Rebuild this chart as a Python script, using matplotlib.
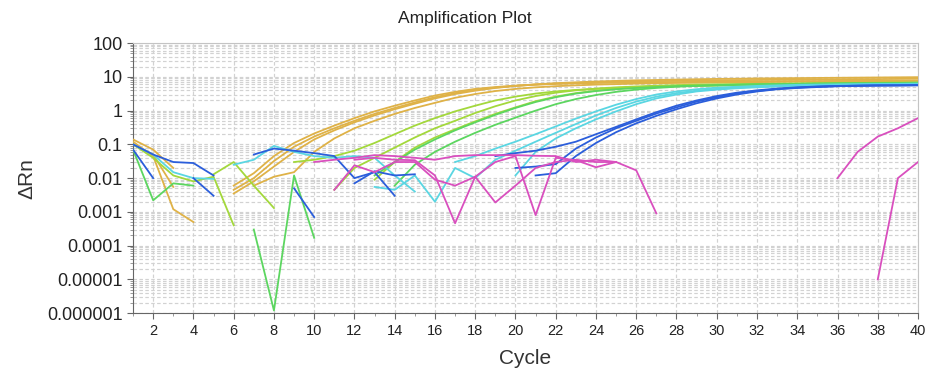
import numpy as np
import matplotlib
matplotlib.use("Agg")
import matplotlib.pyplot as plt
from matplotlib.ticker import FixedLocator, FuncFormatter, MultipleLocator, LogLocator, NullFormatter

plt.rcParams['font.family'] = ['Liberation Sans', 'DejaVu Sans']

# each trace: (first cycle, values per cycle)
gold_traces = [
    (6, [0.006, 0.014, 0.045, 0.11, 0.21, 0.36, 0.6, 0.95, 1.4, 2.0, 2.8, 3.6, 4.4, 5.0, 5.5, 5.9, 6.2, 6.4,
         6.6, 6.7, 6.8, 6.9, 7.0, 7.1, 7.2, 7.3, 7.3, 7.4, 7.5, 7.5, 7.6, 7.6, 7.7, 7.7, 7.8]),
    (6, [0.0045, 0.01, 0.032, 0.085, 0.17, 0.3, 0.5, 0.8, 1.2, 1.75, 2.5, 3.3, 4.1, 4.8, 5.4, 5.9, 6.3, 6.6,
         6.9, 7.1, 7.3, 7.5, 7.6, 7.8, 7.9, 8.0, 8.1, 8.2, 8.3, 8.4, 8.5, 8.6, 8.6, 8.7, 8.8]),
    (6, [0.0035, 0.008, 0.022, 0.06, 0.14, 0.26, 0.45, 0.72, 1.1, 1.6, 2.3, 3.1, 3.9, 4.7, 5.4, 6.0, 6.5, 6.9,
         7.3, 7.6, 7.9, 8.1, 8.3, 8.5, 8.7, 8.8, 9.0, 9.1, 9.2, 9.3, 9.4, 9.5, 9.6, 9.7, 9.8]),
    (7, [0.006, 0.011, 0.015, 0.06, 0.15, 0.3, 0.5, 0.8, 1.2, 1.7, 2.4, 3.1, 3.8, 4.4, 4.9, 5.3, 5.6, 5.9,
         6.1, 6.3, 6.5, 6.6, 6.7, 6.8, 6.9, 7.0, 7.1, 7.2, 7.2, 7.3, 7.4, 7.5, 7.5, 7.6]),
    (1, [0.12, 0.045, 0.0012, 0.0005]),
    (1, [0.1, 0.05, 0.0055]),
    (1, [0.14, 0.07, 0.02]),
]

yellowgreen_traces = [
    (9, [0.03, 0.035, 0.045, 0.065, 0.11, 0.2, 0.36, 0.6, 0.95, 1.4, 2.0, 2.6, 3.2, 3.7, 4.1, 4.4, 4.7, 4.9,
         5.1, 5.3, 5.4, 5.5, 5.6, 5.7, 5.8, 5.9, 6.0, 6.0, 6.1, 6.2, 6.2, 6.3]),
    (11, [0.0045, 0.02, 0.04, 0.08, 0.16, 0.3, 0.5, 0.85, 1.35, 2.0, 2.7, 3.4, 4.0, 4.5, 4.9, 5.2, 5.5, 5.7,
          5.9, 6.0, 6.1, 6.2, 6.3, 6.4, 6.5, 6.6, 6.6, 6.7, 6.8, 6.8]),
    (13, [0.009, 0.03, 0.08, 0.16, 0.28, 0.48, 0.8, 1.25, 1.9, 2.6, 3.3, 3.9, 4.4, 4.8, 5.1, 5.4, 5.6, 5.8,
          5.9, 6.0, 6.1, 6.2, 6.3, 6.4, 6.4, 6.5, 6.5, 6.6]),
    (5, [0.013, 0.03, 0.006, 0.0013]),
    (1, [0.1, 0.04, 0.012, 0.008, 0.011, 0.0004]),
]

green_traces = [
    (13, [0.012, 0.03, 0.07, 0.14, 0.26, 0.45, 0.75, 1.2, 1.8, 2.5, 3.2, 3.8, 4.3, 4.7, 5.0, 5.3, 5.5, 5.7,
          5.9, 6.0, 6.1, 6.2, 6.3, 6.4, 6.5, 6.5, 6.6, 6.7]),
    (14, [0.006, 0.025, 0.06, 0.12, 0.22, 0.38, 0.62, 1.0, 1.55, 2.2, 2.9, 3.6, 4.2, 4.7, 5.1, 5.4, 5.6, 5.8,
          6.0, 6.1, 6.2, 6.3, 6.4, 6.5, 6.5, 6.6, 6.7]),
    (1, [0.07, 0.0022, 0.007, 0.006]),
    (7, [0.0003, 0.0000012, 0.012, 0.00017]),
]

cyan_traces = [
    (17, [0.03, 0.045, 0.075, 0.12, 0.2, 0.34, 0.58, 0.95, 1.5, 2.2, 3.0, 3.7, 4.3, 4.8, 5.1, 5.4, 5.6, 5.8,
          5.9, 6.0, 6.1, 6.2, 6.2, 6.3]),
    (13, [0.0055, 0.0045, 0.012, 0.002, 0.02, 0.01, 0.035, 0.065, 0.12, 0.22, 0.4, 0.72, 1.2, 1.85, 2.6, 3.3,
          3.9, 4.4, 4.8, 5.1, 5.3, 5.5, 5.7, 5.8, 5.9, 6.0, 6.0, 6.1]),
    (20, [0.012, 0.06, 0.15, 0.3, 0.55, 0.95, 1.55, 2.3, 3.0, 3.7, 4.2, 4.6, 4.9, 5.2, 5.4, 5.5, 5.6, 5.7,
          5.8, 5.9, 5.9]),
    (1, [0.1, 0.05, 0.015, 0.01, 0.0095]),
    (6, [0.025, 0.035, 0.09, 0.06, 0.045, 0.04, 0.045, 0.04, 0.012, 0.004]),
]

blue_traces = [
    (19, [0.045, 0.055, 0.065, 0.085, 0.12, 0.2, 0.33, 0.55, 0.9, 1.4, 2.0, 2.7, 3.4, 4.0, 4.5, 4.9, 5.2,
          5.4, 5.5, 5.6, 5.6, 5.7]),
    (20, [0.02, 0.022, 0.026, 0.075, 0.16, 0.3, 0.5, 0.82, 1.25, 1.85, 2.5, 3.2, 3.8, 4.4, 4.8, 5.1, 5.3,
          5.5, 5.6, 5.6, 5.7]),
    (21, [0.012, 0.014, 0.045, 0.11, 0.23, 0.42, 0.7, 1.1, 1.65, 2.3, 3.0, 3.7, 4.3, 4.7, 5.0, 5.3, 5.4,
          5.5, 5.6, 5.6]),
    (1, [0.07, 0.01]),
    (1, [0.1, 0.05, 0.03, 0.028, 0.012]),
    (4, [0.01, 0.003]),
    (9, [0.005, 0.0007]),
    (7, [0.05, 0.075, 0.065, 0.055, 0.045, 0.01, 0.015, 0.003]),
    (12, [0.007, 0.016, 0.012, 0.013]),
]

magenta_traces = [
    (10, [0.03, 0.035, 0.04, 0.048, 0.045, 0.04, 0.035, 0.045, 0.048, 0.048, 0.048, 0.046, 0.045, 0.03,
          0.035, 0.03, 0.017, 0.0009]),
    (11, [0.0045, 0.024, 0.015, 0.03, 0.03, 0.009, 0.006, 0.011, 0.0019, 0.006, 0.02, 0.03, 0.035, 0.03, 0.03]),
    (12, [0.035, 0.04, 0.035, 0.034, 0.012, 0.00046, 0.011, 0.03, 0.045, 0.0008, 0.04, 0.034, 0.021, 0.03]),
    (36, [0.01, 0.06, 0.17, 0.3, 0.6]),
    (38, [0.00001, 0.01, 0.03]),
]

groups = [
    (gold_traces, '#DFB247'),
    (yellowgreen_traces, '#A3D83C'),
    (green_traces, '#5CD660'),
    (cyan_traces, '#5AD6E2'),
    (blue_traces, '#2B5EDB'),
    (magenta_traces, '#D94FBE'),
]

y_ticks = [1e-6, 1e-5, 1e-4, 1e-3, 1e-2, 1e-1, 1, 10, 100]
x_ticks = list(range(2, 41, 2))

fig = plt.figure(figsize=(9.29, 3.75), dpi=100)
ax = fig.add_axes([0.1432, 0.165, 0.845, 0.72])

for traces, color in groups:
    for start, vals in traces:
        cyc = np.arange(start, start + len(vals))
        ax.plot(cyc, vals, color=color, lw=1.3, solid_joinstyle='round', zorder=3)

ax.set_yscale('log')
ax.set_ylim(1e-6, 100)
ax.set_xlim(1, 40)
ax.yaxis.set_major_locator(FixedLocator(y_ticks))
ax.yaxis.set_minor_locator(LogLocator(base=10, subs=np.arange(2, 10), numticks=100))
ax.yaxis.set_minor_formatter(NullFormatter())
ax.yaxis.set_major_formatter(FuncFormatter(lambda v, p: np.format_float_positional(v, trim='-')))
ax.xaxis.set_major_locator(FixedLocator(x_ticks))
ax.xaxis.set_minor_locator(MultipleLocator(1))

ax.grid(True, which='both', axis='y', color='#d2d2d2', lw=0.85, ls=(0, (3, 2)), zorder=0)
ax.grid(True, which='major', axis='x', color='#d2d2d2', lw=0.85, ls=(0, (3, 2)), zorder=0)

for s in ['left', 'bottom']:
    ax.spines[s].set_color('#666666')
for s in ['top', 'right']:
    ax.spines[s].set_color('#c4c4c4')
ax.tick_params(axis='y', which='major', labelsize=13, length=4, color='#666666', labelcolor='#222222')
ax.tick_params(axis='y', which='minor', length=2, color='#888888')
ax.tick_params(axis='x', which='major', labelsize=10.5, length=4, color='#666666', labelcolor='#222222')
ax.tick_params(axis='x', which='minor', length=2, color='#888888')

fig.text(0.5, 0.952, 'Amplification Plot', ha='center', va='center', fontsize=12.5, color='#222222')
ax.set_xlabel('Cycle', fontsize=15, color='#333333', labelpad=8)
ax.set_ylabel('ΔRn', fontsize=15, color='#333333', labelpad=8)

fig.savefig('out.png', dpi=100)
